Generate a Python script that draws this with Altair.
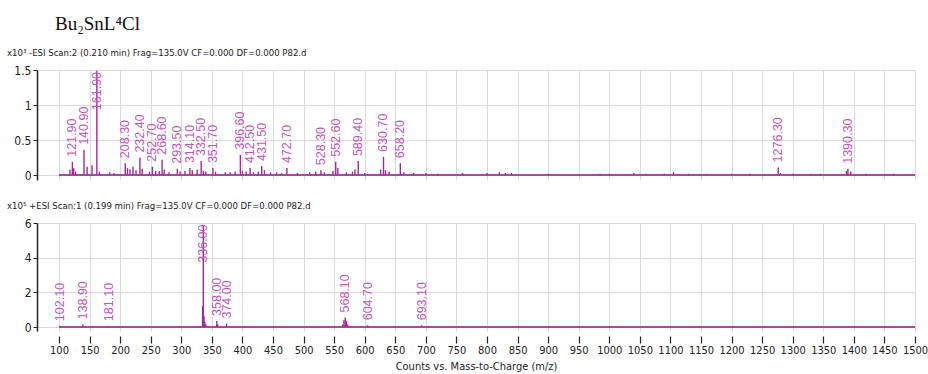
import altair as alt
import pandas as pd

# ---------------- data ----------------
top_mz = [121.9, 140.9, 161.9, 208.3, 232.4, 252.7, 268.6, 293.5, 314.1, 332.5, 351.7,
          396.6, 412.5, 431.5, 472.7, 528.3, 552.6, 589.4, 630.7, 658.2, 1276.3, 1390.3]
top_int = [0.19, 0.36, 1.49, 0.17, 0.25, 0.12, 0.22, 0.09, 0.10, 0.20, 0.10,
           0.29, 0.10, 0.13, 0.10, 0.07, 0.19, 0.20, 0.26, 0.17, 0.11, 0.09]
top_minor_mz = [118, 124, 127, 146, 154, 166, 183, 190, 212, 216, 221, 226, 236, 248, 258,
                264, 272, 280, 298, 306, 318, 326, 336, 340, 356, 372, 380, 388, 400, 406,
                418, 426, 436, 446, 456, 464, 490, 510, 520, 534, 548, 556, 570, 580, 584,
                600, 626, 634, 640, 664, 680, 700, 720, 760, 800, 820, 830, 840, 900, 985,
                1000, 1040, 1060, 1090, 1105, 1130, 1160, 1200, 1230, 1280, 1300, 1330,
                1345, 1388, 1395, 1420, 1465]
top_minor_int = [0.08, 0.10, 0.05, 0.12, 0.14, 0.05, 0.04, 0.03, 0.10, 0.08, 0.12, 0.07,
                 0.09, 0.05, 0.06, 0.06, 0.08, 0.04, 0.05, 0.06, 0.07, 0.08, 0.06, 0.05,
                 0.05, 0.04, 0.04, 0.05, 0.06, 0.05, 0.04, 0.05, 0.07, 0.04, 0.04, 0.03,
                 0.03, 0.04, 0.05, 0.04, 0.06, 0.10, 0.04, 0.05, 0.08, 0.03, 0.08, 0.07,
                 0.05, 0.04, 0.03, 0.03, 0.02, 0.03, 0.03, 0.04, 0.03, 0.03, 0.02, 0.02,
                 0.02, 0.03, 0.02, 0.02, 0.04, 0.02, 0.02, 0.02, 0.02, 0.03, 0.02, 0.02,
                 0.02, 0.06, 0.05, 0.02, 0.02]

bot_mz = [102.1, 138.9, 181.1, 336.0, 358.0, 374.0, 568.1, 604.7, 693.1]
bot_int = [0.05, 0.15, 0.05, 5.90, 0.35, 0.20, 0.55, 0.10, 0.10]
bot_minor_mz = [334.8, 337.2, 338.5, 340.0, 359.5, 564.0, 566.0, 570.0, 572.0]
bot_minor_int = [1.20, 0.60, 0.30, 0.15, 0.15, 0.15, 0.40, 0.35, 0.15]

top_header = "x10\u00b3  -ESI Scan:2 (0.210 min) Frag=135.0V CF=0.000 DF=0.000 P82.d"
bot_header = "x10\u2075  +ESI Scan:1 (0.199 min) Frag=135.0V CF=0.000 DF=0.000 P82.d"
x_ticks = list(range(100, 1501, 50))

PEAK = "#a3289b"
LABEL = "#c255bc"
NARROW = "DejaVu Sans Condensed, Liberation Sans, Arial"


def panel(mz, inten, minor_mz, minor_int, ymin, ymax, yticks, height, header, show_x):
    peaks = pd.DataFrame({"mz": mz + minor_mz, "i": inten + minor_int})
    labels = pd.DataFrame({"mz": mz, "i": inten, "label": [f"{v:.2f}" for v in mz]})
    base = pd.DataFrame({"a": [x_ticks[0]], "b": [x_ticks[-1]], "y": [0]})

    xscale = alt.Scale(domain=[64, 1500], nice=False, zero=False)
    yscale = alt.Scale(domain=[ymin, ymax], nice=False, zero=False)
    if show_x:
        xaxis = alt.Axis(values=x_ticks, tickCount=len(x_ticks), grid=True,
                         gridColor="#dadada", domain=False, format="d",
                         ticks=True, tickColor="#222", tickSize=7, tickWidth=1.2, offset=5,
                         labelFont=NARROW, labelFontSize=11, labelColor="#222",
                         labelPadding=1, labelOverlap=False, labelFlush=False,
                         title="Counts vs. Mass-to-Charge (m/z)",
                         titleFont=NARROW, titleFontSize=11, titleFontWeight="normal",
                         titleColor="#222", titlePadding=5)
    else:
        xaxis = alt.Axis(values=x_ticks, tickCount=len(x_ticks), grid=True,
                         gridColor="#dadada", domain=False,
                         ticks=False, labels=False, title=None)
    yaxis = alt.Axis(values=yticks, tickCount=len(yticks), grid=True, gridColor="#dadada",
                     domain=True, domainColor="#222", domainWidth=1.5, tickColor="#222",
                     tickSize=4, labelFont=NARROW, labelFontSize=12, labelColor="#222",
                     format="~g", labelOverlap=False, labelFlush=False, labelPadding=2,
                     title=None, minExtent=30, maxExtent=30)

    rules = alt.Chart(peaks).transform_calculate(z="0").mark_rule(
        color=PEAK, strokeWidth=1.4).encode(
        x=alt.X("mz:Q", scale=xscale, axis=xaxis),
        y=alt.Y("i:Q", scale=yscale, axis=yaxis),
        y2="z:Q")
    baseline = alt.Chart(base).mark_rule(color=PEAK, strokeWidth=2, opacity=0.85).encode(
        x=alt.X("a:Q", scale=xscale, axis=xaxis), x2="b:Q",
        y=alt.Y("y:Q", scale=yscale, axis=yaxis))
    text = alt.Chart(labels).transform_calculate(
        ly=f"min(datum.i, {0.57 * ymax})").mark_text(
        angle=270, align="left", baseline="middle", dx=5, fontSize=12.5,
        font="Liberation Sans, Arial", color=LABEL).encode(
        x=alt.X("mz:Q", scale=xscale, axis=xaxis),
        y=alt.Y("ly:Q", scale=yscale, axis=yaxis), text="label:N")

    return alt.layer(rules, baseline, text).properties(
        width=878, height=height,
        title=alt.TitleParams(text=header, anchor="start", frame="group", dx=-30,
                              font=NARROW, fontSize=9.5, fontWeight="normal",
                              color="#222", offset=7))


top = panel(top_mz, top_int, top_minor_mz, top_minor_int, -0.07, 1.5,
            [0, 0.5, 1, 1.5], 110, top_header, False)
bottom = panel(bot_mz, bot_int, bot_minor_mz, bot_minor_int, -0.23, 6.0,
               [0, 2, 4, 6], 108, bot_header, True)

chart = alt.vconcat(top, bottom, spacing=43, bounds="flush").properties(
    title=alt.TitleParams(text="Bu\u2082SnL\u2074Cl", anchor="start", dx=48,
                          font="Liberation Serif", fontSize=19, fontWeight="normal",
                          color="#111", offset=14)
).configure(
    padding={"left": 7, "top": 14, "right": 0, "bottom": 2},
    background="white"
).configure_view(stroke=None)

chart.save("out.html", embed_options={"renderer": "svg", "actions": False})
